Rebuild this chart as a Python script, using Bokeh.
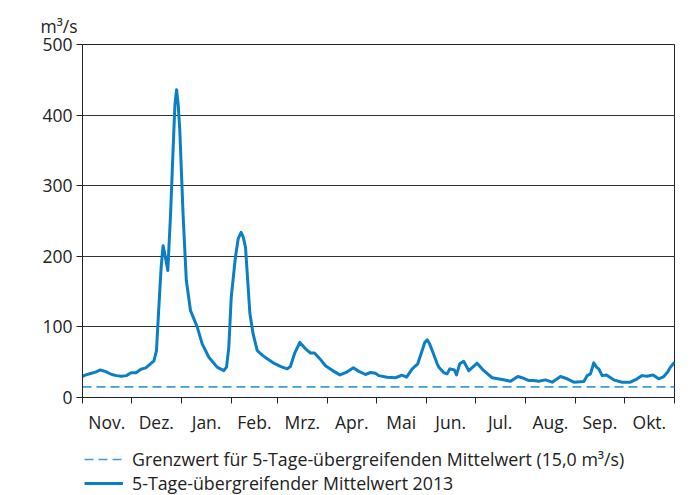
from bokeh.plotting import figure
from bokeh.layouts import column
from bokeh.models import (FixedTicker, Legend, LegendItem, Range1d, Title)
from bokeh.embed import file_html
from bokeh.resources import INLINE

# ---- data (days since 1 Nov 2012, 5-day running mean in m³/s) ----
days = [0, 2, 5, 8, 11, 14, 18, 21, 24, 27, 30, 33, 36, 39, 41, 44, 45.6, 46.4, 47.3,
        48.5, 49.7, 51, 52.6, 54.3, 55.9, 57, 58, 59, 60, 62, 64, 66.6, 70.7, 73.8,
        77.9, 83, 87.1, 88.8, 90.2, 91.7, 94.3, 96, 97.8, 99, 100.5, 103.2, 105.2,
        107.7, 110.8, 113.9, 118, 122, 126.2, 128.2, 130.7, 134, 137.5, 140.6, 143,
        146.3, 149.8, 153, 155, 158.7, 163, 167, 170.4, 174.5, 177.6, 180.6, 182.7,
        187.8, 193, 197, 199.8, 203.3, 206.7, 209.4, 211, 212.5, 214, 215.6, 218.7,
        219.7, 222.8, 224.8, 226.5, 229.3, 230.6, 232.6, 235, 238.2, 243.3, 247.4,
        252.6, 258.7, 263.9, 268.4, 271, 275.2, 278, 281.3, 285.4, 289.6, 294.7,
        298.8, 302.9, 309.1, 311.2, 313.2, 315.2, 316.9, 318.3, 320.4, 323, 327.5,
        332.7, 337.8, 342, 345, 348.1, 351.8, 355.2, 358.4, 360.8, 362.5, 364.5]
flow = [30, 32, 34, 36, 39, 37, 32.6, 31, 30, 31, 35, 35, 40, 42, 46, 52, 66, 100, 137,
        185, 215, 200, 180, 260, 354, 415, 436, 415, 378, 260, 166, 123, 100, 76,
        57, 43, 38, 43, 71, 142, 199, 225, 234, 228, 213, 119, 90,
        66.6, 60, 55, 48.6, 44, 40.6, 44, 62, 78, 69, 63, 63,
        55, 45, 40, 37, 32, 36, 42, 37, 32.6, 35.4, 34.4, 31,
        28.8, 28, 31.6, 28.8, 40.6, 47.7, 66.6, 78, 81.7, 76, 66.6, 47.7,
        43, 35, 33.5, 40.6, 39, 32, 47.7, 51.4, 38, 48.6, 38,
        28, 25.5, 23, 29.7, 28, 24, 24, 23, 25, 21.7, 29.7,
        26.5, 21.7, 22.7, 31, 33.5, 49, 43, 40.6, 31, 32, 25,
        21.7, 21.7, 26.5, 31, 30, 32, 26.5, 29.7, 36, 43, 48.6]
threshold = 15.0
month_starts = [0, 30, 61, 92, 120, 151, 181, 212, 242, 273, 304, 334, 365]
month_labels = ["Nov.", "Dez.", "Jan.", "Feb.", "Mrz.", "Apr.", "Mai", "Jun.",
                "Jul.", "Aug.", "Sep.", "Okt."]
y_ticks = [0, 100, 200, 300, 400, 500]
legend_labels = ["Grenzwert für 5-Tage-übergreifenden Mittelwert (15,0 m³/s)",
                 "5-Tage-übergreifender Mittelwert 2013"]

FONT = "Open Sans"
FS = "17.5px"
DARK = "#222222"
C_THR = "#3a9de0"
C_FLOW = "#0a7fc6"

p = figure(frame_width=592, frame_height=353, output_backend="svg",
           toolbar_location=None,
           x_range=Range1d(0, 365), y_range=Range1d(0, 500),
           min_border_left=82, min_border_right=19, min_border_top=44,
           min_border_bottom=36)
p.background_fill_color = "white"
p.border_fill_color = "white"
p.outline_line_color = DARK
p.outline_line_width = 1

# unit label as a left-shifted title
p.title = Title(text="m³/s", align="left", offset=-42, text_font=FONT,
                text_font_size=FS, text_font_style="normal", text_color=DARK,
                standoff=14)

# grid
p.xgrid.visible = False
p.ygrid.ticker = FixedTicker(ticks=y_ticks)
p.ygrid.grid_line_color = "#333333"
p.ygrid.grid_line_width = 1

# y axis
p.yaxis.ticker = FixedTicker(ticks=y_ticks)
p.yaxis.major_tick_out = 6
p.yaxis.major_tick_in = 0
p.yaxis.minor_tick_line_color = None
p.yaxis.major_label_standoff = 4
p.yaxis.major_label_text_font = FONT
p.yaxis.major_label_text_font_size = FS
p.yaxis.major_label_text_color = DARK
p.yaxis.axis_line_color = DARK
p.yaxis.major_tick_line_color = DARK

# x axis: labels centred in months, minor ticks at month boundaries
mids = [(month_starts[i] + month_starts[i + 1]) / 2 for i in range(12)]
p.xaxis.ticker = FixedTicker(ticks=mids, minor_ticks=month_starts)
p.xaxis.major_label_overrides = {m: lab for m, lab in zip(mids, month_labels)}
p.xaxis.major_tick_out = 0
p.xaxis.major_tick_in = 0
p.xaxis.minor_tick_out = 6
p.xaxis.minor_tick_in = 0
p.xaxis.minor_tick_line_color = DARK
p.xaxis.major_label_standoff = 6
p.xaxis.major_label_text_font = FONT
p.xaxis.major_label_text_font_size = FS
p.xaxis.major_label_text_color = DARK
p.xaxis.axis_line_color = DARK

# series
p.line([0, 365], [threshold, threshold], line_color=C_THR,
       line_width=1.6, line_dash="9 5")
p.line(days, flow, line_color=C_FLOW, line_width=3,
       line_join="round", line_cap="round")

# ---- legend strip below the chart (frame aligned with the chart frame) ----
q = figure(width=693, height=59, output_backend="svg", toolbar_location=None,
           x_range=Range1d(0, 1), y_range=Range1d(0, 1), min_border=0)
q.axis.visible = False
q.grid.visible = False
q.outline_line_color = None
q.background_fill_color = "white"
q.border_fill_color = "white"
nan = float("nan")
lt = q.line([nan], [nan], line_color=C_THR, line_width=1.6, line_dash="9 5")
lf = q.line([nan], [nan], line_color=C_FLOW, line_width=3)
legend = Legend(items=[LegendItem(label=legend_labels[0], renderers=[lt]),
                       LegendItem(label=legend_labels[1], renderers=[lf])],
                location=(2, 0), orientation="vertical")
legend.background_fill_alpha = 0
legend.border_line_alpha = 0
legend.label_text_font = FONT
legend.label_text_font_size = "17.8px"
legend.label_text_color = DARK
legend.glyph_width = 39
legend.glyph_height = 20
legend.label_height = 20
legend.label_standoff = 9
legend.spacing = -2
legend.padding = 0
legend.margin = 0
q.add_layout(legend, "center")

layout = column(p, q, spacing=0)
open("out.html", "w").write(file_html(layout, INLINE))
